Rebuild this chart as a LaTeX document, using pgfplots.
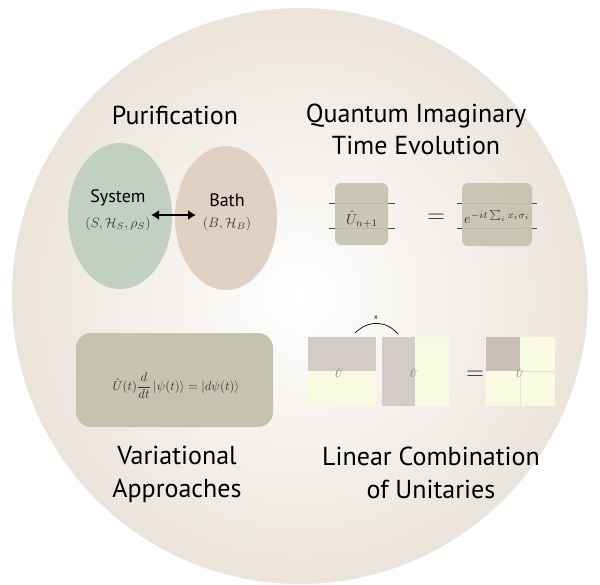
\documentclass[border=0pt]{standalone}
\usepackage{amsmath}
\usepackage{fontspec}
\setmainfont{PT Sans}
\usepackage{pgfplots}
\pgfplotsset{compat=1.18}
\usetikzlibrary{arrows.meta}
\definecolor{bgc}{RGB}{235,228,219}
\definecolor{sysc}{RGB}{194,208,195}
\definecolor{bathc}{RGB}{224,209,196}
\definecolor{boxc}{RGB}{197,195,176}
\definecolor{lgray}{RGB}{211,203,200}
\definecolor{dgray}{RGB}{200,191,187}
\definecolor{lyel}{RGB}{249,250,226}
\begin{document}
\begin{tikzpicture}
\begin{axis}[width=600pt,height=578pt,scale only axis,xmin=0,xmax=600,ymin=0,ymax=578,
  y dir=reverse,hide axis,clip=false]
\addplot[draw=none] coordinates {(0,0) (600,578)};
\path (axis cs:0,0) rectangle (axis cs:600,578);
% background disc
\shade[inner color=white,outer color=bgc] (axis cs:300,296) circle[radius=288pt];
% titles
\node[font=\fontsize{26}{32}\selectfont] at (axis cs:175,115) {Purification};
\node[align=center,font=\fontsize{26}{32}\selectfont] at (axis cs:416,129) {Quantum Imaginary\\Time Evolution};
\node[align=center,font=\fontsize{26}{33}\selectfont] at (axis cs:177,474) {Variational\\Approaches};
\node[align=center,font=\fontsize{26}{33}\selectfont] at (axis cs:431,473) {Linear Combination\\of Unitaries};
% purification
\fill[sysc] (axis cs:120,216) ellipse[x radius=52pt,y radius=73pt];
\fill[bathc] (axis cs:226,218) ellipse[x radius=51pt,y radius=72pt];
\node[font=\fontsize{18}{20}\selectfont] at (axis cs:118,198) {System};
\node[text=black!75] at (axis cs:118,224) {\scalebox{1.36}{$(S,\mathcal{H}_S,\rho_S)$}};
\node[font=\fontsize{18}{20}\selectfont] at (axis cs:227,200) {Bath};
\node[text=black!75] at (axis cs:227,224) {\scalebox{1.36}{$(B,\mathcal{H}_B)$}};
\draw[line width=2.6pt,{Latex[length=8pt,width=10pt]}-{Latex[length=8pt,width=10pt]}] (axis cs:151,215) -- (axis cs:196,215);
% QITE
\draw[black!70,line width=0.6pt] (axis cs:329,203) -- (axis cs:395,203);
\draw[black!70,line width=0.6pt] (axis cs:329,228) -- (axis cs:395,228);
\draw[black!70,line width=0.6pt] (axis cs:457,203) -- (axis cs:537,203);
\draw[black!70,line width=0.6pt] (axis cs:457,228) -- (axis cs:537,228);
\fill[boxc,fill opacity=0.92,rounded corners=6pt] (axis cs:335,183) rectangle (axis cs:388,245);
\fill[boxc,fill opacity=0.92,rounded corners=6pt] (axis cs:462,183) rectangle (axis cs:532,246);
\node[text=black!80] at (axis cs:362,219) {\scalebox{1.42}{$\hat{U}_{n+1}$}};
\node[text=black!80] at (axis cs:436,218) {\scalebox{2.3}{$=$}};
\node[text=black!80] at (axis cs:497,217) {\scalebox{1.4}{$e^{-it\sum_i x_i\sigma_i}$}};
% variational
\fill[boxc,rounded corners=15pt] (axis cs:76,333) rectangle (axis cs:273,427);
\node[text=black!80] at (axis cs:176,386) {\scalebox{1.26}{$\hat{U}(t)\dfrac{d}{dt}\,|\psi(t)\rangle = |d\psi(t)\rangle$}};
% LCU
\fill[lyel] (axis cs:308,337) rectangle (axis cs:376,406);
\fill[lgray] (axis cs:308,337) rectangle (axis cs:376,371);
\fill[lyel] (axis cs:382,337) rectangle (axis cs:449,406);
\fill[lgray] (axis cs:382,337) rectangle (axis cs:415,406);
\fill[lyel] (axis cs:486,337) rectangle (axis cs:555,406);
\fill[dgray] (axis cs:486,337) rectangle (axis cs:520,371);
\draw[lyel!92!black,line width=0.3pt] (axis cs:520,371) -- (axis cs:520,406) (axis cs:520,371) -- (axis cs:555,371);
\node[text=black!55] at (axis cs:339,373) {\scalebox{0.95}{$\hat{U}$}};
\node[text=black!55] at (axis cs:414,373) {\scalebox{0.95}{$\hat{U}$}};
\node[text=black!55] at (axis cs:520,373) {\scalebox{0.95}{$\hat{U}$}};
\node[text=black!80] at (axis cs:475,375) {\scalebox{2.3}{$=$}};
\draw[line width=0.7pt] (axis cs:355,333) .. controls (axis cs:368,320) and (axis cs:386,320) .. (axis cs:398,334);
\node[font=\fontsize{7}{9}\selectfont] at (axis cs:376,318) {x};
\end{axis}
\end{tikzpicture}
\end{document}
